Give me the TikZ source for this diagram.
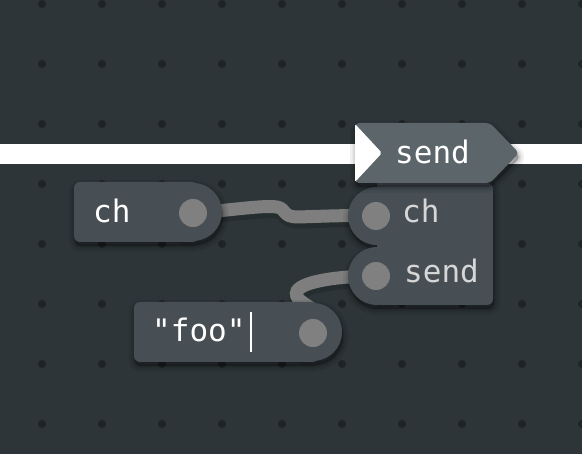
\documentclass[tikz,border=0pt]{standalone}
\usepackage{fontspec}
\newfontfamily\uimono{DejaVu Sans Mono}
\definecolor{canvasbg}{HTML}{2D3538}
\definecolor{griddot}{HTML}{1E2325}
\definecolor{nodebody}{HTML}{474F55}
\definecolor{nodehead}{HTML}{5C656A}
\definecolor{portgray}{HTML}{808080}
\definecolor{wiregray}{HTML}{7E7E7E}
\definecolor{labelgray}{HTML}{D6D6D6}
\pgfdeclarelayer{gridlayer}
\pgfdeclarelayer{wirelayer}
\pgfsetlayers{gridlayer,wirelayer,main}
\tikzset{
  softshade/.style={
    preaction={draw=black,draw opacity=0.06,line width=12pt,line join=round,fill=black,fill opacity=0.06,transform canvas={shift={(1pt,-4pt)}}},
    preaction={draw=black,draw opacity=0.08,line width=7pt,line join=round,fill=black,fill opacity=0.08,transform canvas={shift={(1pt,-4pt)}}},
    preaction={draw=black,draw opacity=0.10,line width=3pt,line join=round,fill=black,fill opacity=0.12,transform canvas={shift={(1pt,-4pt)}}}},
  blockfill/.style={fill=nodebody,softshade},
  headfill/.style={fill=nodehead,softshade},
  portdot/.style={circle,fill=portgray,minimum size=28pt,inner sep=0pt},
  wire/.style={draw=wiregray,line width=13pt,line cap=round},
  wireshade/.style={draw=black,draw opacity=0.15,line width=17pt,line cap=round,transform canvas={shift={(1pt,-3pt)}}},
  lbl/.style={font=\uimono\fontsize{31}{36}\selectfont,inner sep=0pt,anchor=base west},
}
\begin{document}
\begin{tikzpicture}[x=1pt,y=-1pt]
\useasboundingbox (0,0) rectangle (582,454);
\begin{pgfonlayer}{gridlayer}
  \fill[canvasbg] (0,0) rectangle (582,454);
  \foreach \gx in {42,102,...,582}
    \foreach \gy in {4,64,...,424}
      \fill[griddot] (\gx,\gy) circle[radius=4];
  \fill[white] (0,144) rectangle (582,164);
\end{pgfonlayer}

% ch value node
\fill[blockfill] (74,182) [rounded corners=6] -- (198,182) -- (198,242) -- (74,242) -- cycle
   [sharp corners] (193,212) circle[radius=29];
\node[portdot] (chout) at (193,213) {};
\node[lbl,text=white] (chlabel) at (93,223) {ch};

% "foo" value node
\fill[blockfill] (134,302) [rounded corners=6] -- (318,302) -- (318,362) -- (134,362) -- cycle
   [sharp corners] (313,332) circle[radius=29];
\node[portdot] (fooout) at (313,333) {};
\node[lbl,text=white] (foolabel) at (152,342) {"foo"};
\draw[white,line width=2pt] (251,312) -- (251,352);

% send block body
\fill[blockfill] (377,183) [rounded corners=6] -- (493,183) -- (493,305) -- (377,305) [sharp corners] -- cycle
   (377,216) circle[radius=29] (377,276) circle[radius=29];
\node[portdot] (inch) at (376,216) {};
\node[portdot] (insend) at (376,276) {};
\node[lbl,text=labelgray] (inchlabel) at (402,223) {ch};
\node[lbl,text=labelgray] (insendlabel) at (404,283) {send};

% send block header
\fill[headfill] (355,123) [rounded corners=4] -- (490,123) -- (519,153) -- (490,183) -- (355,183) -- cycle;
\fill[white,rounded corners=2] (355,124) -- (382,153) -- (355,182) -- cycle;
\node[lbl,text=white] (headlabel) at (395,164) {send};

% wires
\begin{pgfonlayer}{wirelayer}
  \path[wireshade] (chout.center) .. controls (235,210) and (262,205) .. (277,207)
     .. controls (287,209) and (282,217) .. (298,217)
     .. controls (330,216) and (350,215) .. (inch.center);
  \path[wireshade] (fooout.center) .. controls (340,310) and (290,306) .. (297,291)
     .. controls (303,281) and (340,276) .. (insend.center);
  \draw[wire] (chout.center) .. controls (235,210) and (262,205) .. (277,207)
     .. controls (287,209) and (282,217) .. (298,217)
     .. controls (330,216) and (350,215) .. (inch.center);
  \draw[wire] (fooout.center) .. controls (340,310) and (290,306) .. (297,291)
     .. controls (303,281) and (340,276) .. (insend.center);
\end{pgfonlayer}
\end{tikzpicture}
\end{document}
